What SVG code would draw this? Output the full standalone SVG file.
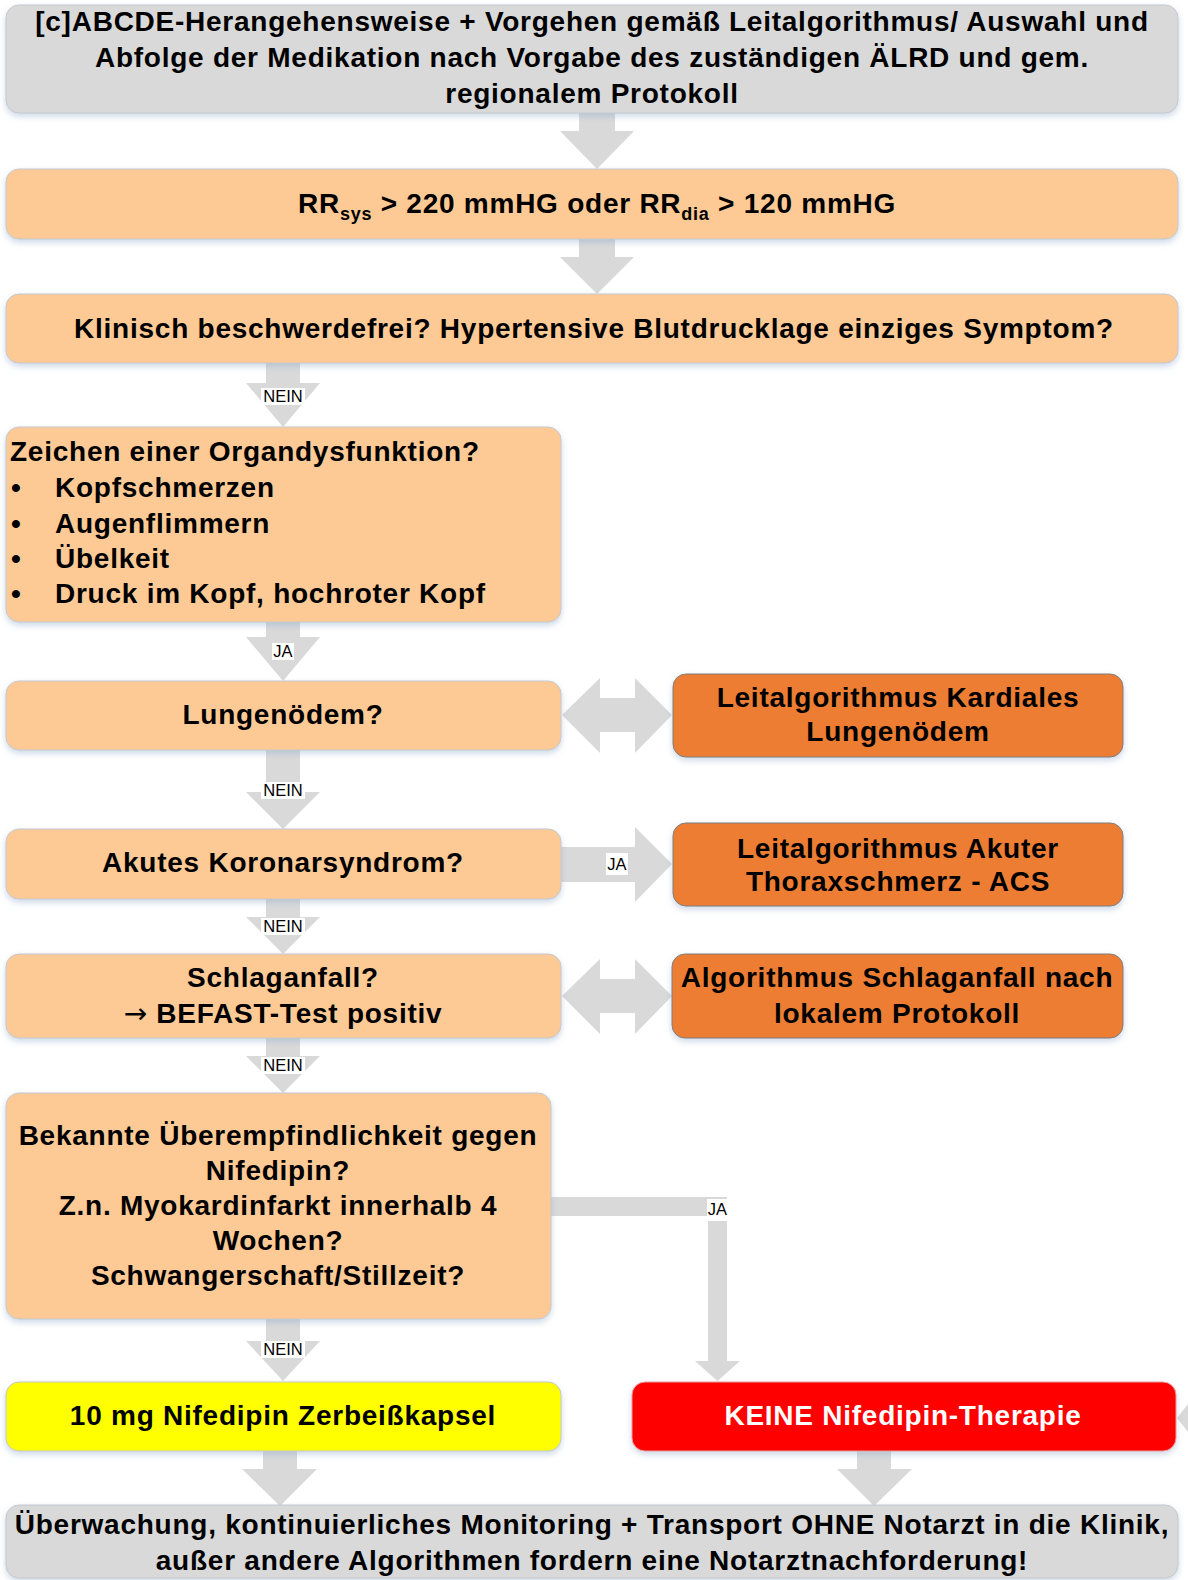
<svg xmlns="http://www.w3.org/2000/svg" width="1188" height="1580" viewBox="0 0 1188 1580">
  <defs>
    <filter id="sh" x="-5%" y="-10%" width="110%" height="130%">
      <feDropShadow dx="0" dy="3" stdDeviation="3" flood-color="#8fa9cc" flood-opacity="0.45"/>
    </filter>
  </defs>
  <style>
    .box { stroke: #c4c9d0; stroke-width: 1; filter: url(#sh); }
    .gray { fill: #d9d9d9; }
    .peach { fill: #fdca96; }
    .orange { fill: #ed7d31; stroke: #7f7f7f; }
    .yellow { fill: #ffff00; }
    .red { fill: #ff0000; stroke: #e8a0a0; }
    .t { font-family: "Liberation Sans", Arial, sans-serif; font-weight: bold; font-size: 28px; letter-spacing: 0.75px; fill: #000; }
    .c { text-anchor: middle; }
    .w { fill: #fff; }
    .ar { font-family: "DejaVu Sans", sans-serif; font-weight: normal; font-size: 28px; }
    .arr { fill: #d9d9d9; }
    .lbg { fill: #fff; }
    .lbl { font-family: "Liberation Sans", Arial, sans-serif; font-size: 16.5px; fill: #000; text-anchor: middle; }
  </style>

  <!-- connectors -->
  <g id="connectors">
    <!-- start -> RR -->
    <polygon class="arr" points="579,113 615,113 615,131 634,131 597,169 560,131 579,131"/>
    <!-- RR -> Klinisch -->
    <polygon class="arr" points="579,239 615,239 615,257 634,257 597,294 560,257 579,257"/>
    <!-- Klinisch -> Zeichen (NEIN) -->
    <polygon class="arr" points="266,363 300,363 300,383 320,383 283,427 246,383 266,383"/>
    <rect class="lbg" x="261" y="388" width="44" height="17"/>
    <text class="lbl" x="283" y="402">NEIN</text>
    <!-- Zeichen -> Lungenoedem (JA) -->
    <polygon class="arr" points="266,622 300,622 300,637 320,637 283,681 246,637 266,637"/>
    <rect class="lbg" x="272" y="643" width="22" height="17"/>
    <text class="lbl" x="283" y="657">JA</text>
    <!-- Lungenoedem <-> Kardiales -->
    <polygon class="arr" points="562,715 600,678 600,698 635,698 635,678 672,715 635,753 635,732 600,732 600,753"/>
    <!-- Lungenoedem -> ACS (NEIN) -->
    <polygon class="arr" points="266,750 300,750 300,792 320,792 283,829 246,792 266,792"/>
    <rect class="lbg" x="261" y="782" width="44" height="17"/>
    <text class="lbl" x="283" y="796">NEIN</text>
    <!-- ACS -> Thoraxschmerz (JA) -->
    <polygon class="arr" points="561,847 635,847 635,827 672,864 635,902 635,882 561,882"/>
    <rect class="lbg" x="606" y="853" width="22" height="22"/>
    <text class="lbl" x="617" y="870">JA</text>
    <!-- ACS -> Schlaganfall (NEIN) -->
    <polygon class="arr" points="266,899 300,899 300,917 320,917 283,954 246,917 266,917"/>
    <rect class="lbg" x="261" y="918" width="44" height="17"/>
    <text class="lbl" x="283" y="932">NEIN</text>
    <!-- Schlaganfall <-> Algorithmus -->
    <polygon class="arr" points="562,996 600,959 600,979 635,979 635,959 672,996 635,1034 635,1013 600,1013 600,1034"/>
    <!-- Schlaganfall -> Kontraindikationen (NEIN) -->
    <polygon class="arr" points="266,1038 300,1038 300,1056 320,1056 283,1093 246,1056 266,1056"/>
    <rect class="lbg" x="261" y="1057" width="44" height="17"/>
    <text class="lbl" x="283" y="1071">NEIN</text>
    <!-- Kontraindikationen -> KEINE (JA) -->
    <polygon class="arr" points="551,1197 727,1197 727,1361 740,1361 717.5,1381 695,1361 708,1361 708,1216 551,1216"/>
    <rect class="lbg" x="707" y="1199" width="21" height="22"/>
    <text class="lbl" x="717.5" y="1215">JA</text>
    <!-- Kontraindikationen -> Nifedipin (NEIN) -->
    <polygon class="arr" points="266,1319 300,1319 300,1341 320,1341 283,1381 246,1341 266,1341"/>
    <rect class="lbg" x="261" y="1341" width="44" height="17"/>
    <text class="lbl" x="283" y="1355">NEIN</text>
    <!-- Nifedipin -> Ueberwachung -->
    <polygon class="arr" points="263,1451 297,1451 297,1469 317,1469 280,1506 242,1469 263,1469"/>
    <!-- KEINE -> Ueberwachung -->
    <polygon class="arr" points="857,1451 891,1451 891,1469 912,1469 874,1506 837,1469 857,1469"/>
    <!-- incoming head at right edge -->
    <polygon class="arr" points="1177,1418 1188,1404 1188,1432"/>
  </g>

  <g id="n-start">
    <rect class="box gray" x="6" y="5" width="1172" height="108" rx="13"/>
    <text class="t c" x="592" y="31">[c]ABCDE-Herangehensweise + Vorgehen gemäß Leitalgorithmus/ Auswahl und</text>
    <text class="t c" x="592" y="67">Abfolge der Medikation nach Vorgabe des zuständigen ÄLRD und gem.</text>
    <text class="t c" x="592" y="103">regionalem Protokoll</text>
  </g>

  <g id="n-rr">
    <rect class="box peach" x="6" y="169" width="1172" height="70" rx="13"/>
    <text class="t c" x="597" y="213">RR<tspan font-size="18" dy="7">sys</tspan><tspan dy="-7"> &gt; 220 mmHG oder RR</tspan><tspan font-size="18" dy="7">dia</tspan><tspan dy="-7"> &gt; 120 mmHG</tspan></text>
  </g>

  <g id="n-klinisch">
    <rect class="box peach" x="6" y="294" width="1172" height="69" rx="13"/>
    <text class="t c" x="594" y="338">Klinisch beschwerdefrei? Hypertensive Blutdrucklage einziges Symptom?</text>
  </g>

  <g id="n-organ">
    <rect class="box peach" x="6" y="427" width="555" height="195" rx="13"/>
    <text class="t" x="10" y="461">Zeichen einer Organdysfunktion?</text>
    <text class="t" x="11" y="497">•</text><text class="t" x="55" y="497">Kopfschmerzen</text>
    <text class="t" x="11" y="533">•</text><text class="t" x="55" y="533">Augenflimmern</text>
    <text class="t" x="11" y="568">•</text><text class="t" x="55" y="568">Übelkeit</text>
    <text class="t" x="11" y="603">•</text><text class="t" x="55" y="603">Druck im Kopf, hochroter Kopf</text>
  </g>

  <g id="n-lunge">
    <rect class="box peach" x="6" y="681" width="555" height="69" rx="13"/>
    <text class="t c" x="283" y="724">Lungenödem?</text>
  </g>

  <g id="n-kardial">
    <rect class="box orange" x="673" y="674" width="450" height="83" rx="13"/>
    <text class="t c" x="898" y="707">Leitalgorithmus Kardiales</text>
    <text class="t c" x="898" y="741">Lungenödem</text>
  </g>

  <g id="n-acs">
    <rect class="box peach" x="6" y="829" width="555" height="70" rx="13"/>
    <text class="t c" x="283" y="872">Akutes Koronarsyndrom?</text>
  </g>

  <g id="n-thorax">
    <rect class="box orange" x="673" y="823" width="450" height="83" rx="13"/>
    <text class="t c" x="898" y="858">Leitalgorithmus Akuter</text>
    <text class="t c" x="898" y="891">Thoraxschmerz - ACS</text>
  </g>

  <g id="n-schlag">
    <rect class="box peach" x="6" y="954" width="555" height="84" rx="13"/>
    <text class="t c" x="283" y="987">Schlaganfall?</text>
    <text class="t c" x="283" y="1023"><tspan class="ar">→</tspan> BEFAST-Test positiv</text>
  </g>

  <g id="n-schlag-alg">
    <rect class="box orange" x="672" y="954" width="451" height="84" rx="13"/>
    <text class="t c" x="897" y="987">Algorithmus Schlaganfall nach</text>
    <text class="t c" x="897" y="1023">lokalem Protokoll</text>
  </g>

  <g id="n-kontra">
    <rect class="box peach" x="6" y="1093" width="545" height="226" rx="13"/>
    <text class="t c" x="278" y="1145">Bekannte Überempfindlichkeit gegen</text>
    <text class="t c" x="278" y="1180">Nifedipin?</text>
    <text class="t c" x="278" y="1215">Z.n. Myokardinfarkt innerhalb 4</text>
    <text class="t c" x="278" y="1250">Wochen?</text>
    <text class="t c" x="278" y="1285">Schwangerschaft/Stillzeit?</text>
  </g>

  <g id="n-nifedipin">
    <rect class="box yellow" x="6" y="1382" width="555" height="69" rx="13"/>
    <text class="t c" x="283" y="1425">10 mg Nifedipin Zerbeißkapsel</text>
  </g>

  <g id="n-keine">
    <rect class="box red" x="632" y="1382" width="544" height="69" rx="13"/>
    <text class="t c w" x="903" y="1425">KEINE Nifedipin-Therapie</text>
  </g>

  <g id="n-ueberwachung">
    <rect class="box gray" x="6" y="1505" width="1172" height="73" rx="13"/>
    <text class="t c" x="592" y="1534">Überwachung, kontinuierliches Monitoring + Transport OHNE Notarzt in die Klinik,</text>
    <text class="t c" x="592" y="1570">außer andere Algorithmen fordern eine Notarztnachforderung!</text>
  </g>
</svg>
